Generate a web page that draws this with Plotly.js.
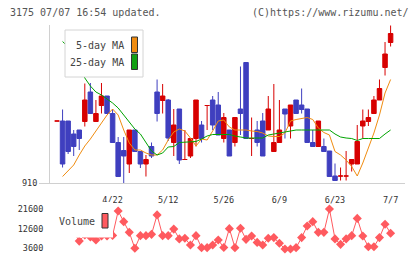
<!DOCTYPE html>
<html>
<head>
<meta charset="utf-8">
<script src="https://cdn.plot.ly/plotly-3.0.1.min.js"></script>
<style>html,body{margin:0;padding:0;background:#fff;}#chart{width:420px;height:259px;}</style>
</head>
<body>
<div id="chart"></div>
<script>
// ---- data ----
const tickIdx  = [10, 20, 30, 40, 50, 60];
const tickText = ['4/22', '5/12', '5/26', '6/9', '6/23', '7/7'];

const openP  = [1034,1034,1034,1008,1016,1033,1092,1033,1065,1084,1049, 991, 975, 948,1016, 973, 948, 983,1092,1075,
                1076, 991,1058, 957, 964, 999,1026,1065,1076,1066, 999,1016, 991,1058,1151, 999,1016,1034,1016, 973,
                 991,1058,1024,1076,1066,1058, 991, 983, 983, 974, 924, 924, 924, 948, 948,1024,1033,1049,1076,1141,1191];
const highP  = [1034,1057,1034,1016,1016,1109,1110,1076,1110,1084,1058,1002,1002,1016,1016, 973, 966, 991,1117,1108,
                1078,1058,1058,1016, 999,1076,1034,1065,1084,1092,1050,1016,1042,1143,1151,1041,1034,1050,1084,1108,
                1076,1058,1066,1076,1099,1058,1016,1034, 999, 974, 949, 941, 974, 957,1026,1057,1057,1084,1117,1192,1225];
const lowP   = [1034, 941, 968, 964, 976,1023,1048,1033,1049,1048, 991, 923, 910, 930, 972, 940, 923, 960,1033,1049,
                 994, 964, 948, 957, 960, 983, 991,1016,1016,1006, 991, 964, 983,1006, 999, 964, 983, 964,1016, 973,
                 991, 999, 999,1049,1049, 991, 983, 983, 973, 923, 915, 915, 915, 933, 948, 999,1024,1049,1076,1125,1183];
const closeP = [1034, 948, 973, 983, 999,1076,1049,1049,1084,1049, 991, 923, 964,1016, 973, 948, 957, 964,1049,1084,
                1000,1026, 956, 957, 999,1076, 999,1065,1026,1006,1041, 964,1041,1049, 999, 999, 991, 964,1058, 991,
                1016,1048,1066,1049,1057, 991, 983,1034, 973, 923, 915, 924, 924, 957, 993,1034,1041,1076,1099,1168,1209];
const ma5    = [null, 923, 934, 946, 966, 984, 998,1014,1028,1046,1058,1046,1016, 990, 976, 976, 970, 966, 966, 976,
                 996,1012,1018,1014,1000, 984, 998, 996,1014,1034,1036,1022,1016,1016,1016,1014,1013,1010,1004,1003,
                1003,1010,1034,1037,1039,1041,1037,1020,1011,1006, 973, 966, 956, 943, 924, 950, 980,1010,1046,1090,1117];
const ma25   = [null,1193,1182,1166,1146,1120,1104,1092,1086,1078,1070,1060,1046,1034,1018,1008, 990, 974, 966, 970,
                 982, 983, 991, 992, 992, 993, 998,1004,1007,1007,1007,1007,1004,1002,1000,1000,1000,1000,1006,1008,
                1010,1012,1014,1016,1016,1016,1016,1016,1016,1016,1008,1002,1000, 999, 995, 999, 999, 999, 999,1008,1016];
const volume = [13800,12000,14300,11100, 6900, 9700, 8800, 7400, 9200, 9200, 9500,20700,15800,10900, 3600, 9400, 9400,10000,18900, 9400,
                 9400,12400, 7900, 8200, 5100, 9400, 3900, 3900, 5100, 7400, 4000,12600, 3900,12800, 7700, 9200, 6300, 5100, 8200, 8500,
                 5900, 3300, 3300, 3900, 8500,13800,15800,10900,10900,21600, 7900, 5400, 7900, 9400,17300, 9200, 4300, 4300, 8500,14600,10500];
const volTicks = [3600, 12600, 21600];
const volTickText = ['3600', '12600', '21600'];
const priceTicks = [910];

// ---- layout helpers (pixel -> paper) ----
const W = 420, H = 259, ML = 50, MR = 15, MT = 0, MB = 4;
const px = v => (v - ML) / (W - ML - MR);
const py = v => (H - MB - v) / (H - MT - MB);

const idx = openP.map((_, i) => i);
const upI = idx.filter(i => closeP[i] >= openP[i]);
const dnI = idx.filter(i => closeP[i] < openP[i]);
const pick = (arr, ids) => ids.map(i => arr[i]);

const RED = '#d70000', BLUE = '#3f3fbf', ORANGE = '#f08c10', GREEN = '#00a400', VOL = '#ff5a5f';
const MONO = 'DejaVu Sans Mono, monospace';

function candle(ids, color) {
  return {
    type: 'candlestick', x: ids, open: pick(openP, ids), high: pick(highP, ids),
    low: pick(lowP, ids), close: pick(closeP, ids), xaxis: 'x', yaxis: 'y',
    whiskerwidth: 0, showlegend: false, hoverinfo: 'skip',
    increasing: {line: {color: color, width: 1}, fillcolor: color},
    decreasing: {line: {color: color, width: 1}, fillcolor: color}
  };
}

const traces = [
  candle(upI, RED),
  candle(dnI, BLUE),
  {type: 'scatter', mode: 'lines', x: idx, y: ma5, line: {color: ORANGE, width: 1}, showlegend: false, hoverinfo: 'skip'},
  {type: 'scatter', mode: 'lines', x: idx, y: ma25, line: {color: GREEN, width: 1}, showlegend: false, hoverinfo: 'skip'},
  {type: 'scatter', mode: 'lines+markers', x: idx, y: volume, xaxis: 'x2', yaxis: 'y2',
   line: {color: VOL, width: 1}, marker: {symbol: 'diamond', size: 7, color: VOL}, showlegend: false, hoverinfo: 'skip'}
];

const XR = [-1.26, 62.59];
const tickFont = {family: MONO, size: 8.5, color: '#333'};
const txtFont = {family: MONO, size: 10, color: '#555'};

const layout = {
  width: W, height: H,
  margin: {l: ML, r: MR, t: MT, b: MB, pad: 0},
  paper_bgcolor: '#fff', plot_bgcolor: '#fff',
  showlegend: false,
  boxgap: 0.1, boxgroupgap: 0.1,
  xaxis: {domain: [0, 1], range: XR, anchor: 'y', tickmode: 'array', tickvals: tickIdx, ticktext: tickText,
          ticks: 'outside', ticklen: 9, tickcolor: 'rgba(0,0,0,0)', tickfont: tickFont,
          showline: true, linecolor: '#d0d0d0', linewidth: 1, showgrid: false, zeroline: false,
          rangeslider: {visible: false}, fixedrange: true},
  xaxis3: {overlaying: 'x', anchor: 'y', range: XR, tickmode: 'linear', tick0: XR[0], dtick: (XR[1] - XR[0]) / 11,
           ticks: 'outside', ticklen: 7, tickcolor: '#d0d0d0', tickwidth: 1, showticklabels: false,
           showline: false, showgrid: false, zeroline: false},
  xaxis2: {domain: [0, 1], range: XR, anchor: 'y2', visible: false},
  yaxis: {domain: [py(183), py(25)], range: [910, 1226], tickmode: 'array', tickvals: priceTicks,
          ticks: 'outside', ticklen: 10, tickcolor: '#d0d0d0', tickfont: tickFont,
          showline: true, linecolor: '#d0d0d0', linewidth: 1, showgrid: false, zeroline: false},
  yaxis2: {domain: [0, py(200)], range: [531, 25721], tickmode: 'array', tickvals: volTicks, ticktext: volTickText,
           ticks: 'outside', ticklen: 4, tickcolor: 'rgba(0,0,0,0)', tickfont: tickFont,
           showline: false, showgrid: false, zeroline: false},
  shapes: [
    {type: 'rect', xref: 'paper', yref: 'paper', x0: px(65), x1: px(143), y0: py(77), y1: py(30),
     fillcolor: '#fff', line: {color: '#d4d4d4', width: 1}},
    {type: 'rect', xref: 'paper', yref: 'paper', x0: px(131.5), x1: px(137.5), y0: py(52.5), y1: py(37),
     fillcolor: ORANGE, line: {color: '#333', width: 1}},
    {type: 'rect', xref: 'paper', yref: 'paper', x0: px(131.5), x1: px(137.5), y0: py(69.5), y1: py(54),
     fillcolor: '#12a012', line: {color: '#333', width: 1}},
    {type: 'rect', xref: 'paper', yref: 'paper', x0: px(51), x1: px(113), y0: py(237.5), y1: py(202),
     fillcolor: '#fff', line: {width: 0}},
    {type: 'rect', xref: 'paper', yref: 'paper', x0: px(102), x1: px(108), y0: py(228), y1: py(213.5),
     fillcolor: VOL, line: {color: '#333', width: 1}}
  ],
  annotations: [
    {xref: 'paper', yref: 'paper', x: px(8), y: py(12), xanchor: 'left', yanchor: 'middle', showarrow: false,
     text: '3175 07/07 16:54 updated.', font: txtFont},
    {xref: 'paper', yref: 'paper', x: px(411), y: py(12), xanchor: 'right', yanchor: 'middle', showarrow: false,
     text: '(C)https://www.rizumu.net/', font: txtFont},
    {xref: 'paper', yref: 'paper', x: px(126), y: py(45.5), xanchor: 'right', yanchor: 'middle', showarrow: false,
     text: '5-day MA', font: {family: MONO, size: 10, color: '#444'}},
    {xref: 'paper', yref: 'paper', x: px(126), y: py(62.5), xanchor: 'right', yanchor: 'middle', showarrow: false,
     text: '25-day MA', font: {family: MONO, size: 10, color: '#444'}},
    {xref: 'paper', yref: 'paper', x: px(57), y: py(221.5), xanchor: 'left', yanchor: 'middle', showarrow: false,
     text: 'Volume', font: {family: MONO, size: 10, color: '#444'}}
  ]
};

Plotly.newPlot('chart', traces, layout, {staticPlot: true, displayModeBar: false});
</script>
</body>
</html>
